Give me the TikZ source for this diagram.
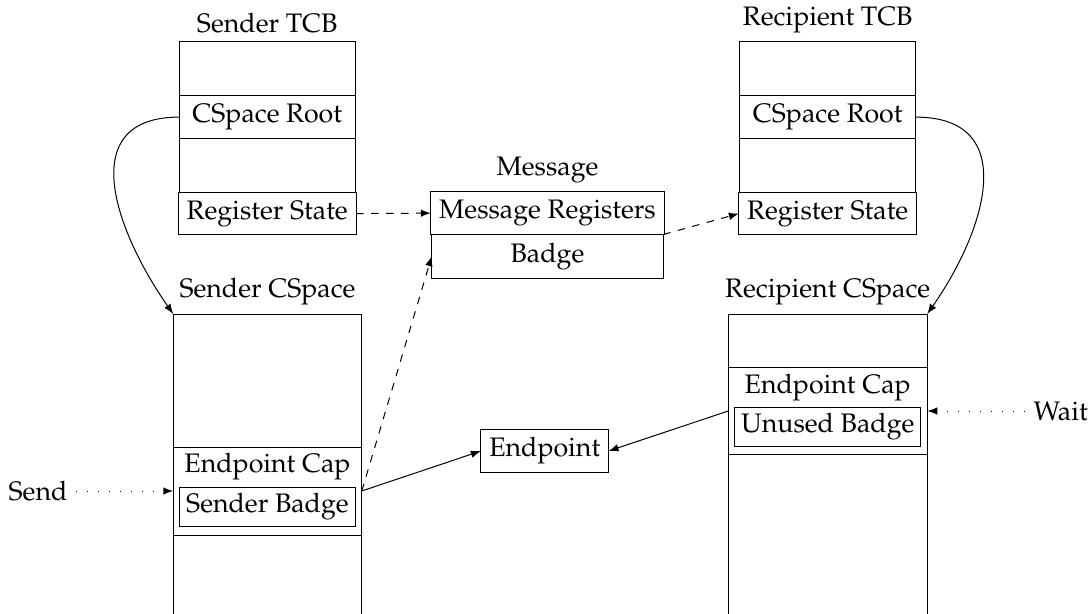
\documentclass[tikz,border=0pt]{standalone}
\usepackage[T1]{fontenc}
\usepackage{mathpazo}
\usetikzlibrary{positioning}

\tikzset{cell/.style={draw, minimum height=16.8pt, inner sep=3.33pt, outer sep=0pt}}
\tikzset{blank/.style={cell, minimum height=21.5pt}}
\tikzset{tcb/.style={minimum width=70.4pt}}
\tikzset{badge/.style={draw, inner sep=2.5pt, minimum height=15pt}}
\tikzset{ptr/.style={-latex}}
\tikzset{msg/.style={-latex, dashed}}
\tikzset{call/.style={-latex, loosely dotted}}

\begin{document}
\begin{tikzpicture}[font=\fontsize{10.7pt}{13pt}\selectfont]
\useasboundingbox (0,0) rectangle (435.6pt,-245.6pt);
\clip (0,0) rectangle (435.6pt,-245.6pt);

% sender thread
\node[blank, tcb, anchor=north, label=above:Sender TCB] (stcb) at (106.9pt,-16.8pt) {};
\node[cell, tcb, below=0pt of stcb] (sroot) {CSpace Root};
\node[blank, tcb, below=0pt of sroot] (sgap) {};
\node[cell, tcb, below=0pt of sgap] (sreg) {Register State};

% recipient thread
\node[blank, tcb, anchor=north, label=above:Recipient TCB] (rtcb) at (331.1pt,-16.8pt) {};
\node[cell, tcb, below=0pt of rtcb] (rroot) {CSpace Root};
\node[blank, tcb, below=0pt of rroot] (rgap) {};
\node[cell, tcb, below=0pt of rgap] (rreg) {Register State};

% message
\node[cell, minimum width=92.6pt, anchor=north, label=above:Message] (msgreg) at (219pt,-76.7pt) {Message Registers};
\node[cell, minimum width=92.6pt, below=0pt of msgreg] (msgbadge) {Badge};

% sender cspace
\node[blank, minimum width=75.4pt, minimum height=53.2pt, anchor=north, label=above:Sender CSpace] (scs) at (107pt,-125.6pt) {};
\node[cell, minimum width=75.4pt, minimum height=35.2pt, below=0pt of scs] (scap) {};
\node[blank, minimum width=75.4pt, minimum height=40pt, below=0pt of scap] (scsend) {};
\node (scaptxt) at ([yshift=-8pt]scap.north) {Endpoint Cap};
\node[badge, anchor=south] (sbadge) at ([yshift=3.1pt]scap.south) {Sender Badge};

% recipient cspace
\node[blank, minimum width=79.6pt, minimum height=21.3pt, anchor=north, label=above:Recipient CSpace] (rcs) at (331.1pt,-125.6pt) {};
\node[cell, minimum width=79.6pt, minimum height=35pt, below=0pt of rcs] (rcap) {};
\node[blank, minimum width=79.6pt, minimum height=80pt, below=0pt of rcap] (rcsend) {};
\node (rcaptxt) at ([yshift=-8pt]rcap.north) {Endpoint Cap};
\node[badge, anchor=south] (rbadge) at ([yshift=3.1pt]rcap.south) {Unused Badge};

\node[cell] (ep) at (217.9pt,-180.4pt) {Endpoint};

\node[left=38.8pt of scap] (send) {Send};
\node[right=39pt of rcap] (wait) {Wait};

\draw[ptr] (sroot.west) to[out=180,in=125,looseness=1.35] (scs.north west);
\draw[ptr] (rroot.east) to[out=0,in=55,looseness=1.35] (rcs.north east);
\draw[msg] (sreg.east) -- (msgreg.west);
\draw[msg] (msgbadge.north east) -- (rreg.west);
\draw[msg] (scap.east) -- (msgbadge.west);
\draw[ptr] (scap.east) -- (ep.west);
\draw[ptr] (rcap.west) -- (ep.east);
\draw[call] (send) -- (scap.west);
\draw[call] (wait) -- (rcap.east);
\end{tikzpicture}
\end{document}
